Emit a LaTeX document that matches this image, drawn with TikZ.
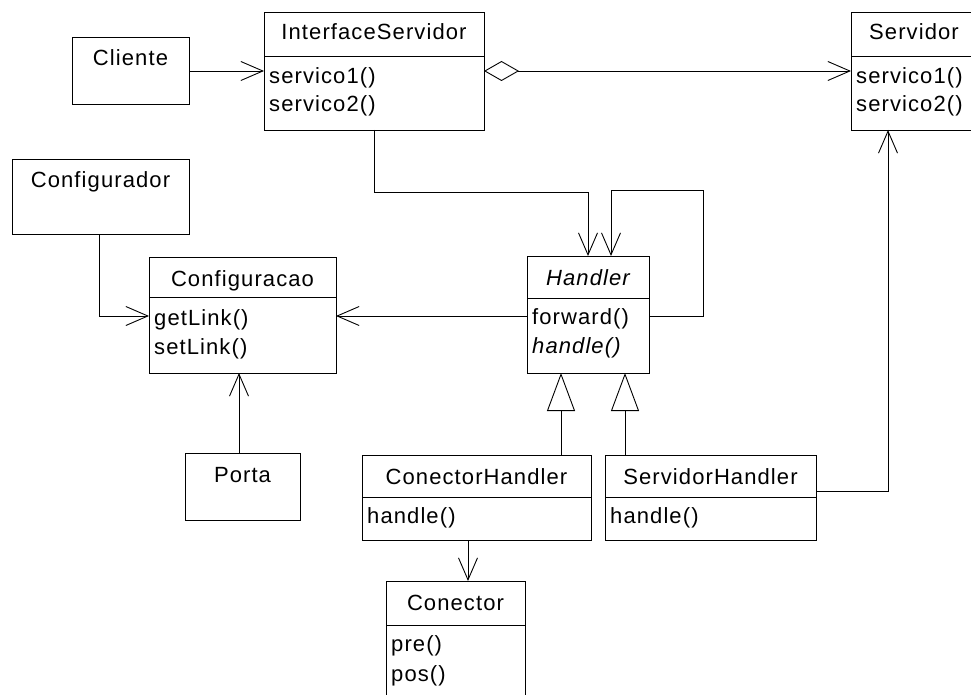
\documentclass[tikz,border=0pt]{standalone}
\usepackage{fontspec}
\setmainfont{Liberation Sans}[LetterSpace=5]
\usetikzlibrary{arrows.meta}
\newcommand\klass[5]{%
  \pgfmathsetmacro\kw{#4-#2}\pgfmathsetmacro\kh{#5-#3}%
  \pgfmathsetmacro\kx{(#2+#4)/2}\pgfmathsetmacro\ky{(#3+#5)/2}%
  \node[box, minimum width=\kw pt, minimum height=\kh pt] (#1) at (\kx,\ky) {};}
\newcommand\kdiv[2]{\draw[boxline] (#1.west |- 0,#2) -- (#1.east |- 0,#2);}
\begin{document}
\begin{tikzpicture}[x=1pt,y=-1pt,
  box/.style={draw=black, line width=0.9pt, inner sep=0pt, outer sep=0pt, rectangle},
  boxline/.style={draw=black, line width=0.9pt},
  ttl/.style={anchor=base, inner sep=0pt, font=\fontsize{22}{26}\selectfont},
  mth/.style={anchor=base west, inner sep=0pt, font=\fontsize{22}{26}\selectfont},
  conn/.style={draw=black, line width=0.9pt},
  >={Straight Barb[length=22pt,width=19pt,line width=0.9pt]},
  inh/.style={conn, -{Triangle[open,length=38pt,width=28pt,line width=0.9pt]}},
  agg/.style={conn, {Diamond[open,length=35pt,width=20pt,line width=0.9pt]}-{Straight Barb[length=22pt,width=19pt,line width=0.9pt]}}
]
\useasboundingbox (0,0) rectangle (971,695);
\clip (0,0) rectangle (971,695);
\fill[white] (0,0) rectangle (971,695);

% Cliente
\klass{cli}{72}{37}{189}{104}
\node[ttl] (cli-t) at (130.5,66) {Cliente};

% InterfaceServidor
\klass{is}{264}{12}{484}{130}
\kdiv{is}{56}
\node[ttl] (is-t) at (374,40) {InterfaceServidor};
\node[mth] (is-m1) at (269,84) {servico1()};
\node[mth] (is-m2) at (269,112) {servico2()};

% Servidor
\klass{sv}{851}{12}{985}{130}
\kdiv{sv}{56}
\node[ttl] (sv-t) at (914,40) {Servidor};
\node[mth] (sv-m1) at (856,84) {servico1()};
\node[mth] (sv-m2) at (856,112) {servico2()};

% Configurador
\klass{cfr}{12}{159}{189}{234}
\node[ttl] (cfr-t) at (100.5,188) {Configurador};

% Configuracao
\klass{cfg}{149}{257}{336}{373}
\kdiv{cfg}{297}
\node[ttl] (cfg-t) at (242.5,286) {Configuracao};
\node[mth] (cfg-m1) at (154,325) {getLink()};
\node[mth] (cfg-m2) at (154,354) {setLink()};

% Handler
\klass{hd}{527}{256}{649}{373}
\kdiv{hd}{298}
\node[ttl] (hd-t) at (588,285) {\itshape Handler};
\node[mth] (hd-m1) at (532,324) {forward()};
\node[mth] (hd-m2) at (532,353) {\itshape handle()};

% ConectorHandler
\klass{ch}{362}{455}{591}{540}
\kdiv{ch}{497}
\node[ttl] (ch-t) at (476.5,484) {ConectorHandler};
\node[mth] (ch-m1) at (367,523) {handle()};

% ServidorHandler
\klass{sh}{605}{455}{816}{540}
\kdiv{sh}{497}
\node[ttl] (sh-t) at (710.5,484) {ServidorHandler};
\node[mth] (sh-m1) at (610,523) {handle()};

% Porta
\klass{po}{185}{453}{300}{520}
\node[ttl] (po-t) at (242.5,482) {Porta};

% Conector
\klass{co}{386}{581}{525}{715}
\kdiv{co}{625}
\node[ttl] (co-t) at (455.5,610) {Conector};
\node[mth] (co-m1) at (391,651) {pre()};
\node[mth] (co-m2) at (391,681) {pos()};

% connectors
\draw[conn,->] (cli.east |- 0,71) -- (is.west |- 0,71);
\draw[agg] (is.east |- 0,71) -- (sv.west |- 0,71);
\draw[conn,->] (is.south) |- (588,192) -- (hd.north -| 588,0);
\draw[conn,->] (hd.east |- 0,316) -- (703,316) -- (703,190) -- (611,190) -- (hd.north -| 611,0);
\draw[conn,->] (hd.west |- 0,316) -- (cfg.east |- 0,316);
\draw[conn,->] (cfr.south -| 99,0) |- (cfg.west |- 0,316);
\draw[conn,->] (po.north -| 239,0) -- (cfg.south -| 239,0);
\draw[inh] (ch.north -| 561,0) -- (hd.south -| 561,0);
\draw[inh] (sh.north -| 625,0) -- (hd.south -| 625,0);
\draw[conn,->] (sh.east |- 0,491) -| (sv.south -| 888,0);
\draw[conn,->] (ch.south -| 468,0) -- (co.north -| 468,0);
\end{tikzpicture}
\end{document}
